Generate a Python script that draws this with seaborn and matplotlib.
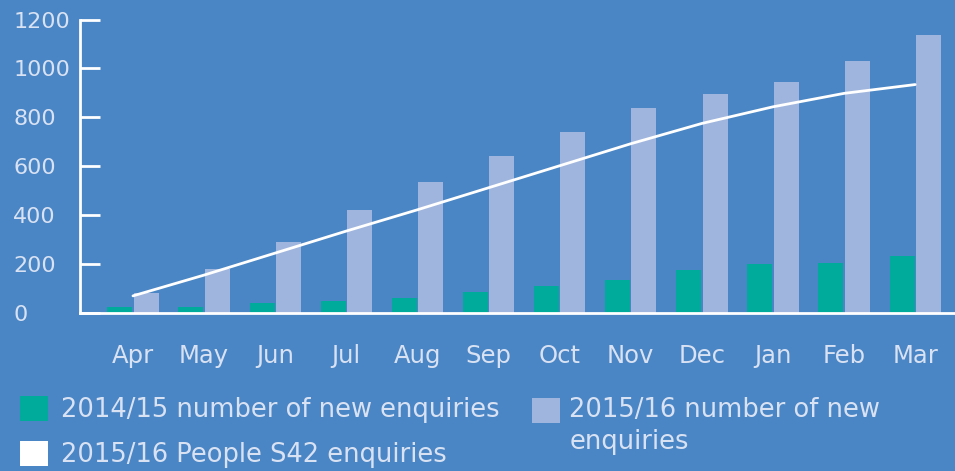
import numpy as np
import pandas as pd
import matplotlib
matplotlib.use("Agg")
import matplotlib.pyplot as plt
from matplotlib.patches import Patch
import seaborn as sns

# Monthly enquiry data
months = ['Apr', 'May', 'Jun', 'Jul', 'Aug', 'Sep', 'Oct', 'Nov', 'Dec', 'Jan', 'Feb', 'Mar']
enq_1415 = [25, 25, 40, 50, 60, 85, 110, 135, 175, 200, 205, 233]
enq_1516 = [82, 180, 290, 420, 535, 640, 740, 840, 895, 945, 1030, 1135]
s42_1516 = [70, 155, 245, 335, 422, 512, 602, 692, 775, 843, 898, 934]
y_ticks = [0, 200, 400, 600, 800, 1000, 1200]

lbl_1415 = '2014/15 number of new enquiries'
lbl_1516 = '2015/16 number of new\nenquiries'
lbl_s42 = '2015/16 People S42 enquiries'

bg = '#4a86c5'
teal = '#00ab9b'
lilac = '#a0b5de'
txt = '#d9e2f3'

df = pd.DataFrame({
    'month': months * 2,
    'value': enq_1415 + enq_1516,
    'series': ['2014/15'] * 12 + ['2015/16'] * 12,
})

sns.set_style('white')
plt.rcParams['font.family'] = ['DejaVu Sans']

fig = plt.figure(figsize=(9.55, 4.71), dpi=100, facecolor=bg)
ax = fig.add_axes([80 / 955, 1 - 313 / 471, 875 / 955, 293.5 / 471])
ax.set_facecolor(bg)

sns.barplot(data=df, x='month', y='value', hue='series', order=months,
            palette=[teal, lilac], width=0.74, gap=0.05, saturation=1,
            edgecolor='none', linewidth=0, legend=False, ax=ax)
sns.lineplot(x=np.arange(len(months)), y=s42_1516, color='white',
             linewidth=2.0, ax=ax)

ax.set_xlim(-0.745, 11.56)
ax.set_ylim(0, 1200)
ax.set_yticks(y_ticks)
ax.set_xlabel('')
ax.set_ylabel('')

for side in ['top', 'right']:
    ax.spines[side].set_visible(False)
for side in ['left', 'bottom']:
    ax.spines[side].set_color('white')
    ax.spines[side].set_linewidth(2)

ax.tick_params(axis='y', left=True, direction='in', length=14.5, width=2,
               color='white', labelsize=16, labelcolor=txt, pad=48)
for lab in ax.get_yticklabels():
    lab.set_horizontalalignment('left')
ax.tick_params(axis='x', bottom=False, length=0, labelsize=17.5,
               labelcolor=txt, pad=22)

# legend: two entries on the left, one two-line entry on the right
leg_kw = dict(frameon=False, fontsize=18.5, handlelength=1.1, handleheight=1.1,
              borderpad=0, borderaxespad=0, loc='upper left')
leg1 = fig.legend(handles=[Patch(facecolor=teal, edgecolor='none', label=lbl_1415),
                           Patch(facecolor='white', edgecolor='none', label=lbl_s42)],
                  bbox_to_anchor=(20 / 955, 1 - 396 / 471), handletextpad=0.5,
                  labelspacing=0.7, **leg_kw)
leg2 = fig.legend(handles=[Patch(facecolor=lilac, edgecolor='none', label=lbl_1516)],
                  bbox_to_anchor=(532 / 955, 1 - 397 / 471), handletextpad=0.35,
                  **leg_kw)
for t in leg1.get_texts() + leg2.get_texts():
    t.set_color(txt)
leg2.get_texts()[0].set_linespacing(1.3)
# keep the square level with the first line of its label
h = leg2.legend_handles[0]
h.set_y(h.get_y() + 12)

fig.savefig('out.png', dpi=100, facecolor=bg)
